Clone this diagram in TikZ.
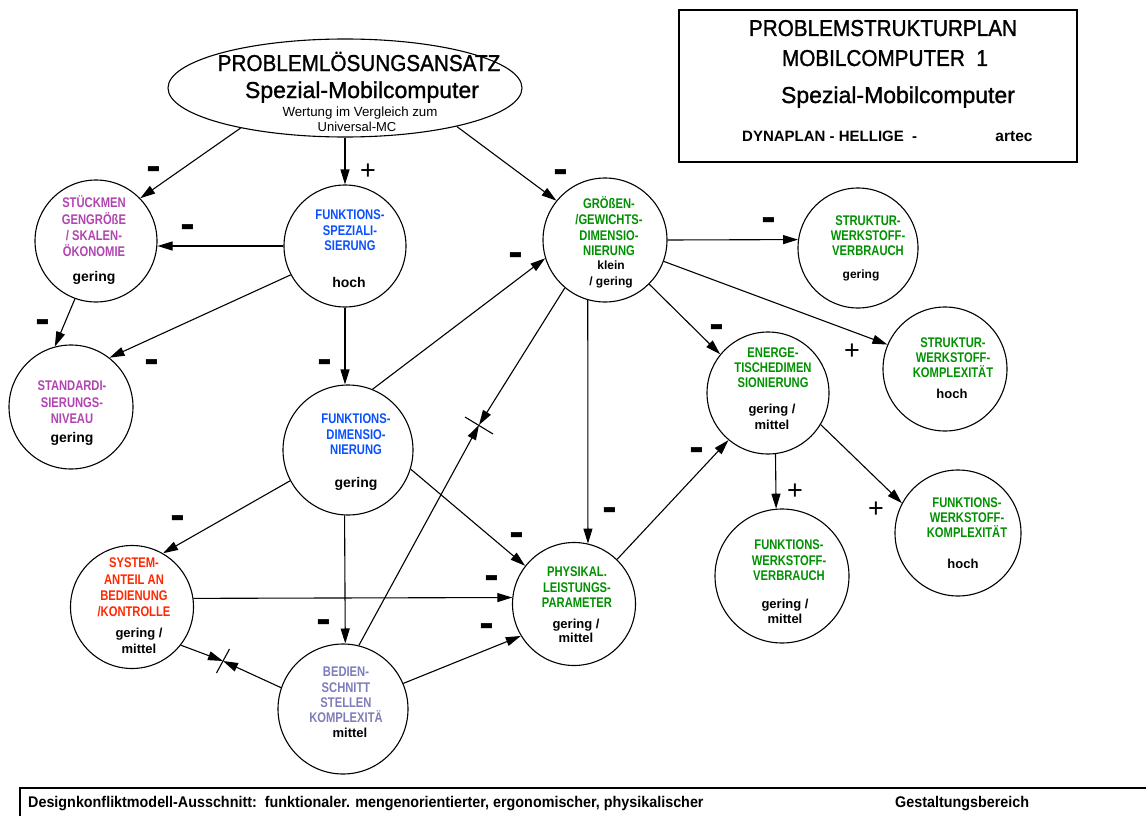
\documentclass[tikz,border=0pt]{standalone}
\usepackage{fontspec}
\usepackage{graphicx}
\setmainfont{Liberation Sans}
\newfontfamily\cnd[FakeStretch=0.8]{Liberation Sans}
\newfontfamily\hdr[FakeStretch=0.9,FakeBold=1.2]{Liberation Sans}
\newfontfamily\hds[FakeBold=1.2]{Liberation Sans}
\newfontfamily\ftr[FakeStretch=0.925]{Liberation Sans}
\usetikzlibrary{arrows.meta,shapes.geometric}
\definecolor{cMag}{RGB}{178,68,178}
\definecolor{cBlu}{RGB}{10,80,255}
\definecolor{cGrn}{RGB}{0,145,0}
\definecolor{cRed}{RGB}{255,40,0}
\definecolor{cBed}{RGB}{125,125,185}
\newcommand\mns{\scalebox{1}[2.1]{−}}
\begin{document}
\begin{tikzpicture}[x=1pt,y=-1pt,
  circ/.style={circle,draw,line width=1.1pt,inner sep=0pt},
  arr/.style={line width=1.1pt,-{Triangle[length=15pt,width=9pt]}},
  ln/.style={line width=1.1pt},
  ctext/.style={align=center,inner sep=0pt,font=\cnd\bfseries\fontsize{14}{15.5}\selectfont},
  vtext/.style={align=center,inner sep=0pt,font=\bfseries\fontsize{13}{15.5}\selectfont},
  btext/.style={align=center,inner sep=0pt,font=\bfseries\fontsize{14}{16}\selectfont},
  mn/.style={inner sep=0pt,anchor=base,font=\bfseries\fontsize{22}{22}\selectfont},
  pl/.style={inner sep=0pt,font=\fontsize{27}{27}\selectfont},
  hd/.style={inner sep=0pt,anchor=base,font=\hdr\fontsize{23}{23}\selectfont},
  hs/.style={inner sep=0pt,anchor=base,font=\hds\fontsize{23}{23}\selectfont},
  ft/.style={inner sep=0pt,anchor=base west,font=\ftr\bfseries\fontsize{15.5}{15.5}\selectfont}
]
\fill[white] (0,0) rectangle (1146,816);
\useasboundingbox (0,0) rectangle (1146,816);

% ellipse
\node[ellipse,draw,line width=1.1pt,minimum width=354pt,minimum height=98pt,inner sep=0pt] (ell) at (345,88) {};
\node[hd] (e1) at (359,71) {PROBLEMLÖSUNGSANSATZ};
\node[hs] (e2) at (362,98) {Spezial-Mobilcomputer};
\node[inner sep=0pt,anchor=base,font=\fontsize{13.3}{13.3}\selectfont] (e3) at (360,116) {Wertung im Vergleich zum};
\node[inner sep=0pt,anchor=base,font=\fontsize{13}{13}\selectfont] (e4) at (357,131) {Universal-MC};

% title box
\node[draw,line width=2pt,minimum width=398pt,minimum height=152pt,inner sep=0pt] (box) at (878,86) {};
\node[hd] (t1) at (883,36) {PROBLEMSTRUKTURPLAN};
\node[hd] (t2) at (885,66) {MOBILCOMPUTER\ \ 1};
\node[hs] (t3) at (898,103) {Spezial-Mobilcomputer};
\node[inner sep=0pt,anchor=base west,font=\bfseries\fontsize{15}{15}\selectfont] (t4) at (742,141) {DYNAPLAN - HELLIGE\ \ -};
\node[inner sep=0pt,anchor=base,font=\bfseries\fontsize{15.5}{15.5}\selectfont] (t5) at (1014,141) {artec};

% circles
\node[circ,minimum size=122pt] (stk) at (96,241) {};
\node[circ,minimum size=122pt] (fs) at (345,246) {};
\node[circ,minimum size=124pt] (gro) at (605,240) {};
\node[circ,minimum size=120pt] (sv) at (858,248) {};
\node[circ,minimum size=124pt] (std) at (71,407) {};
\node[circ,minimum size=130pt] (fd) at (348,450) {};
\node[circ,minimum size=122pt] (en) at (768,393) {};
\node[circ,minimum size=124pt] (sk) at (945,369) {};
\node[circ,minimum size=126pt] (fwk) at (958,533) {};
\node[circ,minimum size=134pt] (fwv) at (782,576) {};
\node[circ,minimum size=123pt] (sys) at (132,607) {};
\node[circ,minimum size=123pt] (phy) at (574,604) {};
\node[circ,minimum size=130pt] (bed) at (343,709) {};

% circle texts
\node[ctext,text=cMag,font=\cnd\bfseries\fontsize{14}{16.3}\selectfont] (stkT) at (94,226.5) {STÜCKMEN\\GENGRÖßE\\/ SKALEN-\\ÖKONOMIE};
\node[btext] (stkV) at (94,278) {gering};
\node[ctext,text=cBlu] (fsT) at (350,230.5) {FUNKTIONS-\\SPEZIALI-\\SIERUNG};
\node[btext] (fsV) at (349,282) {hoch};
\node[ctext,text=cGrn,font=\cnd\bfseries\fontsize{14}{15.7}\selectfont] (groT) at (609,226.5) {GRÖßEN-\\/GEWICHTS-\\DIMENSIO-\\NIERUNG};
\node[vtext,font=\bfseries\fontsize{12}{16}\selectfont] (groV) at (611,274) {klein\\/ gering};
\node[ctext,text=cGrn,font=\cnd\bfseries\fontsize{14}{15}\selectfont] (svT) at (868,236) {STRUKTUR-\\WERKSTOFF-\\VERBRAUCH};
\node[vtext,font=\bfseries\fontsize{12}{15}\selectfont] (svV) at (861,275) {gering};
\node[ctext,text=cMag,font=\cnd\bfseries\fontsize{14}{16.5}\selectfont] (stdT) at (72,402.5) {STANDARDI-\\SIERUNGS-\\NIVEAU};
\node[btext] (stdV) at (72,439) {gering};
\node[ctext,text=cBlu] (fdT) at (356,434.5) {FUNKTIONS-\\DIMENSIO-\\NIERUNG};
\node[btext] (fdV) at (356,484) {gering};
\node[ctext,text=cGrn,font=\cnd\bfseries\fontsize{14}{15}\selectfont] (enT) at (773,368) {ENERGE-\\TISCHEDIMEN\\SIONIERUNG};
\node[vtext,font=\bfseries\fontsize{13}{16}\selectfont] (enV) at (772,417) {gering /\\mittel};
\node[ctext,text=cGrn,font=\cnd\bfseries\fontsize{14}{15}\selectfont] (skT) at (953,358) {STRUKTUR-\\WERKSTOFF-\\KOMPLEXITÄT};
\node[vtext] (skV) at (952,394) {hoch};
\node[ctext,text=cGrn,font=\cnd\bfseries\fontsize{14}{15}\selectfont] (fwkT) at (967,518) {FUNKTIONS-\\WERKSTOFF-\\KOMPLEXITÄT};
\node[vtext] (fwkV) at (963,564) {hoch};
\node[ctext,text=cGrn] (fwvT) at (789,560.5) {FUNKTIONS-\\WERKSTOFF-\\VERBRAUCH};
\node[vtext,font=\bfseries\fontsize{13}{15}\selectfont] (fwvV) at (785,611.5) {gering /\\mittel};
\node[ctext,text=cRed,font=\cnd\bfseries\fontsize{14}{16.3}\selectfont] (sysT) at (134,587.5) {SYSTEM-\\ANTEIL AN\\BEDIENUNG\\/KONTROLLE};
\node[vtext,font=\bfseries\fontsize{13}{16}\selectfont] (sysV) at (139,641) {gering /\\mittel};
\node[ctext,text=cGrn] (phyT) at (577,587.5) {PHYSIKAL.\\LEISTUNGS-\\PARAMETER};
\node[vtext,font=\bfseries\fontsize{13}{14.5}\selectfont] (phyV) at (576,631) {gering /\\mittel};
\node[ctext,text=cBed,font=\cnd\bfseries\fontsize{14}{15.3}\selectfont] (bedT) at (346,695) {BEDIEN-\\SCHNITT\\STELLEN\\KOMPLEXITÄ};
\node[vtext] (bedV) at (350,733) {mittel};

% conflict points
\coordinate (c1) at (479,425);
\coordinate (c2) at (223,661);

% connectors
\draw[arr] (ell.201) -- (stk.44);
\draw[arr] (ell.south) -- (fs.north);
\draw[arr] (ell.341) -- (gro.141);
\draw[arr] (fs.west) -- (fs.west -| stk.east);
\draw[arr] (stk.250) -- (std.105);
\draw[arr] (fs.208) -- (std.52);
\draw[arr] (fs.south) -- (fs.south |- fd.north);
\draw[arr] (fd.68) -- (gro.197);
\draw[arr] (gro.230) -- (c1);
\draw[arr] (bed.76) -- (c1);
\draw[ln] (c1) ++(-14,-8) -- ++(28,17);
\draw[arr] (gro.254) -- (phy.77);
\draw[arr] (gro.east) -- (sv.172);
\draw[arr] (gro.340) -- (sk.157);
\draw[arr] (gro.315) -- (en.141);
\draw[arr] (phy.46) -- (en.230);
\draw[arr] (en.277) -- (fwv.95);
\draw[arr] (en.329) -- (fwk.152);
\draw[arr] (fd.208) -- (sys.60);
\draw[arr] (fd.343) -- (phy.142);
\draw[arr] (fd.267) -- (bed.88);
\draw[arr] (sys.8) -- (phy.174);
\draw[arr] (bed.23) -- (phy.211);
\draw[arr] (sys.322) -- (c2);
\draw[arr] (bed.161) -- (c2);
\draw[ln] (c2) ++(-6.5,12) -- ++(13,-24);

% signs
\node[mn] (m1) at (154,184.5) {\mns};
\node[mn] (m2) at (188,242) {\mns};
\node[mn] (m3) at (43,337) {\mns};
\node[mn] (m4) at (152,377) {\mns};
\node[mn] (m5) at (325,377) {\mns};
\node[mn] (m6) at (516,270) {\mns};
\node[mn] (m7) at (561,187) {\mns};
\node[mn] (m8) at (769,235) {\mns};
\node[mn] (m9) at (717,342) {\mns};
\node[mn] (m10) at (697,465) {\mns};
\node[mn] (m11) at (610,525) {\mns};
\node[mn] (m12) at (517,550) {\mns};
\node[mn] (m13) at (178,533) {\mns};
\node[mn] (m14) at (492,593) {\mns};
\node[mn] (m15) at (487,641) {\mns};
\node[mn] (m16) at (324,637) {\mns};
\node[pl] (p1) at (368,172) {+};
\node[pl] (p2) at (852,352) {+};
\node[pl] (p3) at (795,492) {+};
\node[pl] (p4) at (876,510) {+};

% bottom bar
\draw[line width=2pt] (20,816) -- (20,788) -- (1146,788);
\node[ft] (f1) at (28,807) {Designkonfliktmodell-Ausschnitt:\ \ funktionaler. mengenorientierter, ergonomischer, physikalischer};
\node[ft] (f2) at (895,807) {Gestaltungsbereich};
\end{tikzpicture}
\end{document}
